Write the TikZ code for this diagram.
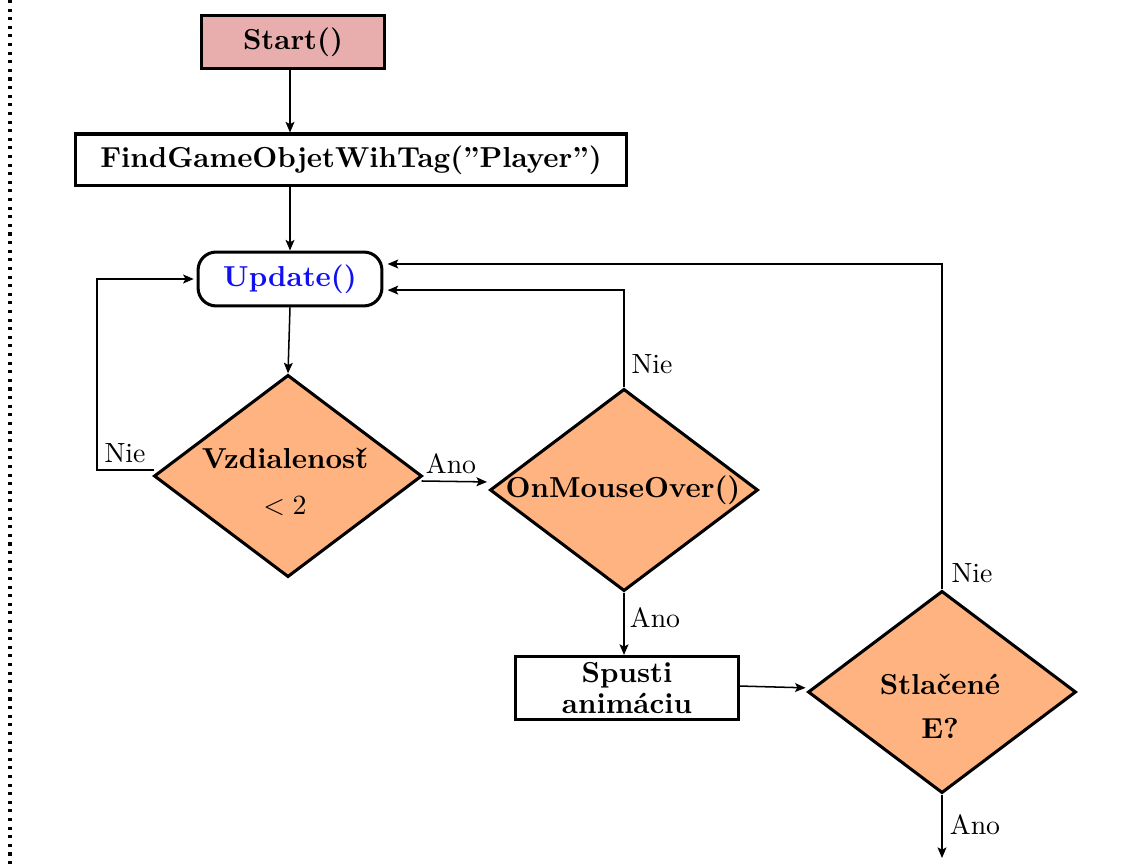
\documentclass[tikz,border=0pt]{standalone}
\usetikzlibrary{shapes.geometric,arrows.meta}
\definecolor{startfill}{HTML}{E8AEAE}
\definecolor{decfill}{HTML}{FFB380}
\definecolor{updblue}{HTML}{1010F0}
\newcommand{\tcaron}{\ooalign{t\cr\hidewidth ˇ\hidewidth\cr}}
\newcommand{\bigbf}{\fontsize{10.4}{12.5}\selectfont\bfseries}
\begin{document}
\begin{tikzpicture}[x=0.36pt,y=-0.36pt,
  box/.style={draw, line width=1.1pt, inner sep=0pt, font=\bigbf},
  dec/.style={draw, line width=1.1pt, diamond, fill=decfill, inner sep=0pt,
    minimum width=96.5pt, minimum height=72.8pt},
  dectext/.style={font=\bigbf, align=center, inner sep=0pt},
  arr/.style={line width=0.55pt, -{Stealth[length=3.8pt,width=3.2pt,inset=0.8pt]}},
  lbl/.style={inner sep=0pt}]
\useasboundingbox (0,0) rectangle (1145,867);
% left dotted border
\draw[line width=1.1pt, dash pattern=on 1.1pt off 2pt] (10,0) -- (10,867);
% nodes
\node[box, fill=startfill, minimum width=66.2pt, minimum height=19.4pt] (start) at (293,42) {Start()};
\node[box, minimum width=198.4pt, minimum height=18.7pt] (find) at (351,160) {FindGameObjetWihTag(”Player”)};
\node[box, rounded corners=6.5pt, minimum width=66.2pt, minimum height=19.4pt, text=updblue] (upd) at (290,279) {Update()};
\node[dec] (d1) at (288,476) {};
\node[dectext] (d1t) at (285,482) {Vzdialenos\tcaron\\[4pt]$<2$};
\node[dec] (d2) at (624,490) {};
\node[dectext] (d2t) at (623,490) {OnMouseOver()};
\node[box, align=center, minimum width=80.3pt, minimum height=22.7pt] (spus) at (627,688) {Spusti\\[-1.4pt]animáciu};
\node[dec] (d3) at (942,692) {};
\node[dectext] (d3t) at (940,706) {Stlačené\\[3.3pt]E?};
% labels
\node[lbl] (n1) at (125,453) {Nie};
\node[lbl] (a1) at (451,464) {Ano};
\node[lbl] (n2) at (652,364) {Nie};
\node[lbl] (a2) at (655,618) {Ano};
\node[lbl] (n3) at (972,573) {Nie};
\node[lbl] (a3) at (975,825) {Ano};
% connectors
\coordinate (k1) at (97,470);
\coordinate (k2) at (940,858);
\draw[arr] (start.south -| 290,0) -- (upd.north |- find.north);
\draw[arr] (upd.north |- find.south) -- (upd.north);
\draw[arr] (upd.south) -- (d1.north);
\draw[arr] ([xshift=0.7pt,yshift=2.2pt]d1.west) -- ([yshift=2.2pt]d1.west -| k1) |- ([xshift=-1pt]upd.west);
\draw[arr] ([xshift=-0.7pt,yshift=-1.8pt]d1.east) -- ([xshift=-0.5pt,yshift=2.9pt]d2.west);
\draw[arr] (d2.north) |- ([xshift=1.5pt,yshift=-4pt]upd.east);
\draw[arr] (d2.south) -- (d2.south |- spus.north);
\draw[arr] ([yshift=0.7pt]spus.east) -- ([xshift=-0.3pt,yshift=1.5pt]d3.west);
\draw[arr] (d3.north) |- ([xshift=1.5pt,yshift=5.4pt]upd.east);
\draw[arr] (d3.south) -- (d3.south |- k2);
\end{tikzpicture}
\end{document}
